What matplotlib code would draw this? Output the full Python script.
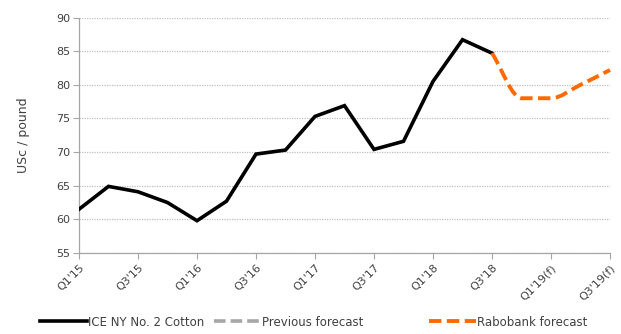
import matplotlib
matplotlib.use("Agg")
import matplotlib.pyplot as plt
from matplotlib.lines import Line2D
from matplotlib.path import Path
from matplotlib.patches import PathPatch

# Quarterly cotton prices, USc / pound
quarters = ["Q1'15", "Q2'15", "Q3'15", "Q4'15",
            "Q1'16", "Q2'16", "Q3'16", "Q4'16",
            "Q1'17", "Q2'17", "Q3'17", "Q4'17",
            "Q1'18", "Q2'18", "Q3'18",
            "Q1'19(f)", "Q2'19(f)", "Q3'19(f)", "Q4'19(f)"]
ice_cotton = [61.5, 64.9, 64.1, 62.5, 59.8, 62.7, 69.7, 70.3, 75.3, 76.9,
              70.4, 71.6, 80.5, 86.7, 84.7]
rabobank_forecast = [84.7, 78.0, 78.0, 80.0, 82.2]
previous_forecast = []

# x positions: one slot per quarter; forecasts continue from Q3'18
ice_x = list(range(len(ice_cotton)))
rabo_x = list(range(len(ice_cotton) - 1, len(ice_cotton) - 1 + len(rabobank_forecast)))
prev_x = []

tick_idx = list(range(0, 19, 2))
tick_labels = ["Q1'15", "Q3'15", "Q1'16", "Q3'16", "Q1'17", "Q3'17",
               "Q1'18", "Q3'18", "Q1'19(f)", "Q3'19(f)"]

text_color = "#404040"
axis_color = "#a6a6a6"
orange = "#ff6a00"
dash = (0, (3.2, 1.4))


def smooth_path(xs, ys):
    """Monotone cubic Bezier path through the points (no overshoot)."""
    n = len(xs)
    deltas = [(ys[i + 1] - ys[i]) / (xs[i + 1] - xs[i]) for i in range(n - 1)]
    tangents = [deltas[0]]
    for i in range(1, n - 1):
        a, b = deltas[i - 1], deltas[i]
        if a * b <= 0:
            tangents.append(0.0)
        else:
            tangents.append(2 * a * b / (a + b))
    tangents.append(deltas[-1])
    verts = [(xs[0], ys[0])]
    codes = [Path.MOVETO]
    for i in range(n - 1):
        h = (xs[i + 1] - xs[i]) / 3
        verts += [(xs[i] + h, ys[i] + tangents[i] * h),
                  (xs[i + 1] - h, ys[i + 1] - tangents[i + 1] * h),
                  (xs[i + 1], ys[i + 1])]
        codes += [Path.CURVE4] * 3
    return Path(verts, codes)


fig = plt.figure(figsize=(6.21, 3.34), dpi=100)
ax = fig.add_axes([0.1272, 0.2425, 0.9823 - 0.1272, 0.9476 - 0.2425])

ax.plot(ice_x, ice_cotton, color="black", lw=2.6, solid_joinstyle="miter",
        label="ICE NY No. 2 Cotton", zorder=3)
ax.plot(prev_x, previous_forecast, color="#a6a6a6", lw=2.6, ls=dash,
        label="Previous forecast")
ax.add_patch(PathPatch(smooth_path(rabo_x, rabobank_forecast), fill=False,
                       edgecolor=orange, lw=2.8, ls=dash, zorder=4,
                       clip_on=False))

ax.set_xlim(0, 18)
ax.set_ylim(55, 90)
ax.set_yticks(range(55, 91, 5))
ax.set_xticks(tick_idx)
ax.set_xticklabels(tick_labels, rotation=45, ha="right", va="top",
                   rotation_mode="anchor")

ax.yaxis.grid(True, color="#bfbfbf", ls=(0, (1, 1)), lw=0.9)
ax.set_axisbelow(True)

for side in ("top", "right"):
    ax.spines[side].set_visible(False)
for side in ("left", "bottom"):
    ax.spines[side].set_color(axis_color)
    ax.spines[side].set_linewidth(0.9)

ax.tick_params(axis="y", length=4, color=axis_color, labelsize=8,
               labelcolor=text_color, pad=2)
ax.tick_params(axis="x", length=4, color=axis_color, labelsize=8,
               labelcolor=text_color, pad=3)

ax.set_ylabel("USc / pound", fontsize=9, color=text_color, labelpad=19)

# Legend entries laid out along the bottom edge
entries = [
    (Line2D([], [], color="black", lw=2.6), "ICE NY No. 2 Cotton", 40),
    (Line2D([], [], color="#a6a6a6", lw=2.6, ls=dash), "Previous forecast", 214),
    (Line2D([], [], color=orange, lw=2.8, ls=dash), "Rabobank forecast", 429),
]
for handle, label, px in entries:
    fig.legend([handle], [label], loc="center left",
               bbox_to_anchor=(px / 621, 1 - 322 / 334),
               frameon=False, fontsize=8.5, handlelength=4.0,
               handletextpad=0.1, borderpad=0, borderaxespad=0,
               labelcolor=text_color)

fig.savefig("out.png", dpi=100)
